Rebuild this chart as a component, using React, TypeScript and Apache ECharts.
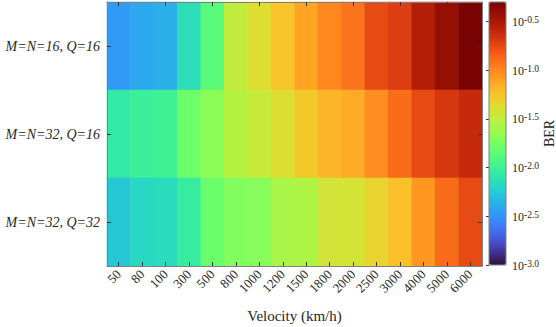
import React, { useEffect, useRef } from "react";
import * as echarts from "echarts";

const velocities = ["50", "80", "100", "300", "500", "800", "1000", "1200", "1500", "1800", "2000", "2500", "3000", "4000", "5000", "6000"];
const configs = ["M=N=16, Q=16", "M=N=32, Q=16", "M=N=32, Q=32"]; // top to bottom

// log10(BER)
const logBER_16_16 = [-2.47, -2.41, -2.38, -2.14, -1.87, -1.49, -1.38, -1.25, -1.11, -1.0, -0.92, -0.76, -0.71, -0.54, -0.41, -0.3];
const logBER_32_16 = [-2.07, -2.01, -1.99, -1.79, -1.68, -1.54, -1.47, -1.38, -1.27, -1.19, -1.14, -1.02, -0.89, -0.76, -0.68, -0.61];
const logBER_32_32 = [-2.27, -2.18, -2.16, -2.04, -1.8, -1.72, -1.7, -1.58, -1.56, -1.43, -1.42, -1.33, -1.23, -1.06, -0.89, -0.76];

const colorMin = -3.0;
const colorMax = -0.3;

const turbo = [
  "rgb(48,18,59)", "rgb(66,50,150)", "rgb(70,90,218)", "rgb(62,123,247)", "rgb(47,157,245)",
  "rgb(38,188,225)", "rgb(39,215,196)", "rgb(52,235,163)", "rgb(77,248,132)", "rgb(110,254,104)",
  "rgb(149,251,81)", "rgb(187,240,63)", "rgb(222,221,50)", "rgb(248,195,42)", "rgb(255,164,35)",
  "rgb(255,130,29)", "rgb(246,95,24)", "rgb(219,61,17)", "rgb(186,34,8)", "rgb(155,17,3)", "rgb(122,4,3)",
];

const FONT = "'Liberation Serif', 'Times New Roman', serif";

export default function App() {
  const ref = useRef<HTMLDivElement>(null);
  useEffect(() => {
    if (!ref.current) return;
    const chart = echarts.init(ref.current, undefined, { renderer: "svg" });
    const rows = [logBER_16_16, logBER_32_16, logBER_32_32];
    const data: [number, number, number][] = [];
    rows.forEach((r, yi) => r.forEach((v, xi) => data.push([xi, yi, v])));

    const axisLineStyle = { color: "#808080", width: 1 };
    const tickStyle = { color: "#333333", width: 1 };

    chart.setOption({
      animation: false,
      textStyle: { fontFamily: FONT },
      grid: [
        { left: 107, right: 74, top: 2, bottom: 61, outerBoundsMode: "none", containLabel: false },
        { left: 489, top: 2, width: 17, height: 263, outerBoundsMode: "none", containLabel: false },
      ],
      xAxis: [
        {
          gridIndex: 0, type: "category", data: velocities, position: "bottom",
          axisLine: { show: true, lineStyle: axisLineStyle },
          axisTick: { show: true, inside: true, alignWithLabel: true, length: 4, lineStyle: tickStyle },
          axisLabel: { rotate: 45, fontSize: 13, color: "#262626", fontFamily: FONT, margin: 6, interval: 0 },
          name: "Velocity (km/h)", nameLocation: "middle", nameGap: 42,
          nameTextStyle: { fontSize: 15, color: "#262626", fontFamily: FONT },
          splitLine: { show: false }, z: 5,
        },
        {
          gridIndex: 0, type: "category", data: velocities, position: "top",
          axisLine: { show: true, lineStyle: axisLineStyle },
          axisTick: { show: true, inside: true, alignWithLabel: true, length: 4, lineStyle: tickStyle },
          axisLabel: { show: false }, splitLine: { show: false }, z: 5,
        },
        {
          gridIndex: 1, type: "value", min: 0, max: 1, show: false,
        },
      ],
      yAxis: [
        {
          gridIndex: 0, type: "category", data: configs, inverse: true, position: "left",
          axisLine: { show: true, lineStyle: axisLineStyle },
          axisTick: { show: true, inside: true, alignWithLabel: true, length: 4, lineStyle: tickStyle },
          axisLabel: { fontSize: 14, fontStyle: "italic", color: "#262626", fontFamily: FONT, margin: 7 },
          splitLine: { show: false }, z: 5,
        },
        {
          gridIndex: 0, type: "category", data: configs, inverse: true, position: "right",
          axisLine: { show: true, lineStyle: axisLineStyle },
          axisTick: { show: true, inside: true, alignWithLabel: true, length: 4, lineStyle: tickStyle },
          axisLabel: { show: false }, splitLine: { show: false }, z: 5,
        },
        {
          gridIndex: 1, type: "value", min: colorMin, max: colorMax, interval: 0.5, position: "right",
          axisLine: { show: false },
          axisTick: { show: true, inside: true, length: 3, lineStyle: tickStyle },
          splitLine: { show: false },
          axisLabel: {
            showMaxLabel: false, margin: 6, color: "#262626",
            formatter: (v: number) => `{b|10}{s|${v.toFixed(1)}}`,
            rich: {
              b: { fontSize: 12, fontFamily: FONT, color: "#262626", verticalAlign: "bottom", lineHeight: 13 },
              s: { fontSize: 9.5, fontFamily: FONT, color: "#262626", verticalAlign: "top", lineHeight: 13 },
            },
          },
          name: "BER", nameLocation: "middle", nameRotate: 90, nameGap: 36,
          nameTextStyle: { fontSize: 14, color: "#262626", fontFamily: FONT },
          z: 12,
        },
      ],
      visualMap: {
        type: "continuous", min: colorMin, max: colorMax, seriesIndex: 0, orient: "vertical",
        left: 489, top: 2, itemWidth: 17, itemHeight: 263, calculable: false, padding: 0,
        hoverLink: false, inRange: { color: turbo },
      },
      graphic: [
        { type: "rect", shape: { x: 489, y: 2, width: 17, height: 263 }, style: { fill: "none", stroke: "#808080", lineWidth: 1 }, z: 20 },
      ],
      series: [
        {
          type: "heatmap", xAxisIndex: 0, yAxisIndex: 0, data,
          itemStyle: { borderWidth: 0 },
          emphasis: { disabled: true },
        },
      ],
    });
    return () => chart.dispose();
  }, []);
  return <div ref={ref} style={{ width: 556, height: 327, position: "absolute", left: 0, top: 0, background: "#fff" }} />;
}
